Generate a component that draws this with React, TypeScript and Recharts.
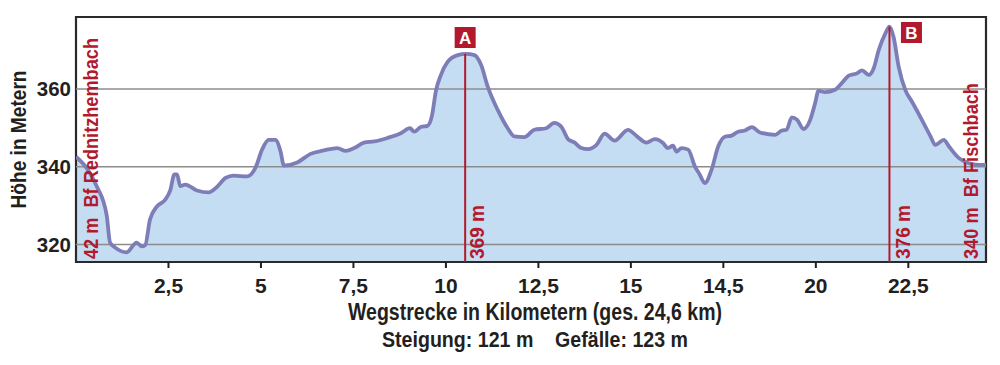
import React from 'react';
import { ComposedChart, Area, Line, XAxis, YAxis, ReferenceLine, ReferenceArea, Label } from 'recharts';

const kmValues = [
  0, 0.3, 0.56, 0.83, 0.92, 1.06, 1.37, 1.64, 1.78, 1.87, 2.0, 2.19, 2.41, 2.55, 2.66, 2.73, 2.82, 2.95,
  3.27, 3.59, 3.81, 4.04, 4.26, 4.63, 4.85, 5.03, 5.21, 5.39, 5.53, 5.62, 5.98, 6.34, 6.7, 7.06, 7.29,
  7.52, 7.79, 8.06, 8.42, 8.78, 9.03, 9.14, 9.32, 9.5, 9.62, 9.73, 9.86, 10.05, 10.32, 10.54, 10.77,
  10.95, 11.13, 11.4, 11.67, 11.85, 12.12, 12.39, 12.71, 12.93, 13.12, 13.3, 13.48, 13.66, 13.84, 14.07,
  14.29, 14.56, 14.92, 15.19, 15.42, 15.65, 15.87, 16.0, 16.14, 16.23, 16.37, 16.55, 16.73, 16.86, 17.0,
  17.18, 17.36, 17.54, 17.72, 17.9, 18.08, 18.27, 18.49, 18.9, 19.08, 19.21, 19.35, 19.49, 19.67, 19.85,
  19.98, 20.07, 20.25, 20.52, 20.7, 20.89, 21.11, 21.25, 21.43, 21.56, 21.7, 21.88, 21.99, 22.1, 22.24,
  22.42, 22.6, 22.87, 23.1, 23.23, 23.46, 23.6, 23.87, 24.14, 24.41, 24.6,
];

const elevValues = [
  342.6, 339.5, 335, 327.5, 320.5, 319.2, 318, 320.5, 319.5, 319.8, 326.4, 329.8, 331.5, 334, 338, 338, 335, 335.4,
  333.9, 333.4, 334.8, 337.1, 337.7, 337.5, 339.7, 344.4, 346.9, 346.9, 343.9, 340.3, 341.1, 343.3, 344.2, 344.8, 344.1,
  344.8, 346.2, 346.5, 347.4, 348.6, 349.9, 349.0, 350.2, 350.5, 353, 359.5, 363.5, 367, 368.7, 369, 368.7,
  366.2, 360.6, 354.6, 349.9, 347.8, 347.6, 349.5, 349.9, 351.3, 350.3, 347.1, 346.2, 344.8, 344.5, 345.6,
  348.5, 346.7, 349.5, 347.6, 346.2, 347.1, 346.1, 344.8, 345.4, 343.9, 344.8, 344.4, 340.1, 338, 335.8,
  339.2, 345.2, 347.7, 348, 349, 349.3, 350.2, 348.8, 348.2, 349.3, 349.5, 352.7, 352.1, 349.7, 352.1,
  356.3, 359.5, 359.2, 359.8, 361.5, 363.4, 364, 364.8, 363.6, 365.2, 370, 374.3, 376, 373.4, 365.7,
  359.7, 356.7, 352, 347.8, 345.6, 346.9, 345.2, 342.2, 340.9, 340.5, 340.5,
];

const xTicks = [2.5, 5, 7.5, 10, 12.5, 15, 17.5, 20, 22.5];
const xTickLabels = ['2,5', '5', '7,5', '10', '12,5', '15', '14,5', '20', '22,5'];
const yTicks = [320, 340, 360];

const peaks = [
  { km: 10.52, h: 369, letter: 'A', text: '369 m', boxDx: 0, boxTop: 27, textDx: 11 },
  { km: 21.99, h: 376, letter: 'B', text: '376 m', boxDx: 22, boxTop: 22, textDx: 13 },
];

const stations = [
  { km: 0, text: '42 m  Bf Rednitzhembach', dx: 14, len: 221 },
  { km: 24.6, text: '340 m  Bf Fischbach', dx: -16, len: 176 },
];

const axisTitle = 'Wegstrecke in Kilometern (ges. 24,6 km)';
const statsText = 'Steigung: 121 m    Gefälle: 123 m';
const yTitle = 'Höhe in Metern';

const data = kmValues.map((km, i) => ({ km, h: elevValues[i] }));

const FONT = '"Liberation Sans", Arial, Helvetica, sans-serif';
const RED = '#b3192c';
const TEXT = '#231f20';
const Y_MIN = 315.5;
const Y_MAX = 378.5;

const PeakLabel = (props: any) => {
  const vb = props.viewBox || {};
  const x = vb.x ?? 0;
  const bottom = (vb.y ?? 0) + (vb.height ?? 0);
  const bx = x + props.boxDx;
  return (
    <g>
      <rect x={bx - 10.5} y={props.boxTop} width={21} height={21} fill={RED} />
      <text x={bx} y={props.boxTop + 17} textAnchor="middle" fill="#fff" fontSize={17} fontWeight={700} fontFamily={FONT}>
        {props.letter}
      </text>
      <text
        transform={`translate(${x + props.textDx}, ${bottom - 3}) rotate(-90)`}
        textAnchor="start"
        dominantBaseline="central"
        fill={RED}
        fontSize={20.5}
        fontWeight={700}
        fontFamily={FONT}
        textLength={54}
        lengthAdjust="spacingAndGlyphs"
      >
        {props.text}
      </text>
    </g>
  );
};

const StationLabel = (props: any) => {
  const vb = props.viewBox || {};
  const x = (vb.x ?? 0) + props.dx;
  const bottom = (vb.y ?? 0) + (vb.height ?? 0);
  return (
    <text
      transform={`translate(${x}, ${bottom - 3}) rotate(-90)`}
      textAnchor="start"
      dominantBaseline="central"
      fill={RED}
      fontSize={21}
      fontWeight={700}
      fontFamily={FONT}
      textLength={props.len}
      lengthAdjust="spacingAndGlyphs"
      style={{ whiteSpace: 'pre' }}
    >
      {props.text}
    </text>
  );
};

const BottomTitle = (props: any) => {
  const vb = props.viewBox || {};
  const cx = (vb.x ?? 0) + (vb.width ?? 0) / 2 + 4;
  const y0 = vb.y ?? 0;
  return (
    <g>
      <text
        x={cx}
        y={y0 + 58}
        textAnchor="middle"
        fill={TEXT}
        fontSize={23}
        fontWeight={700}
        fontFamily={FONT}
        textLength={374}
        lengthAdjust="spacingAndGlyphs"
      >
        {axisTitle}
      </text>
      <text
        x={cx}
        y={y0 + 85}
        textAnchor="middle"
        fill={TEXT}
        fontSize={22}
        fontWeight={700}
        fontFamily={FONT}
        textLength={306}
        lengthAdjust="spacingAndGlyphs"
        style={{ whiteSpace: 'pre' }}
      >
        {statsText}
      </text>
    </g>
  );
};

const YTitle = (props: any) => {
  const vb = props.viewBox || {};
  const x = (vb.x ?? 0) + 18.5;
  const y = (vb.y ?? 0) + (vb.height ?? 0) / 2;
  return (
    <text
      transform={`translate(${x}, ${y}) rotate(-90)`}
      textAnchor="middle"
      dominantBaseline="central"
      fill={TEXT}
      fontSize={22.5}
      fontWeight={700}
      fontFamily={FONT}
      textLength={138}
      lengthAdjust="spacingAndGlyphs"
    >
      {yTitle}
    </text>
  );
};

export default function App() {
  return (
    <div style={{ position: 'absolute', left: 0, top: 0, width: 1000, height: 365, background: '#fff' }}>
      <ComposedChart width={1000} height={365} data={data} margin={{ top: 17, right: 14, bottom: 0, left: 0 }}>
        <XAxis
          dataKey="km"
          type="number"
          domain={[0, 24.6]}
          ticks={xTicks}
          interval={0}
          allowDataOverflow
          height={103}
          tickSize={6}
          tickMargin={10}
          axisLine={false}
          tickLine={{ stroke: TEXT, strokeWidth: 2 }}
          tickFormatter={(v: number) => xTickLabels[xTicks.indexOf(v)] ?? String(v)}
          tick={{ fill: TEXT, fontSize: 21, fontWeight: 700, fontFamily: FONT }}
        >
          <Label content={<BottomTitle />} />
        </XAxis>
        <YAxis
          type="number"
          domain={[Y_MIN, Y_MAX]}
          ticks={yTicks}
          allowDataOverflow
          width={76}
          axisLine={false}
          tickLine={false}
          tickSize={0}
          tickMargin={5}
          tick={{ fill: TEXT, fontSize: 20.5, fontWeight: 700, fontFamily: FONT }}
        >
          <Label content={<YTitle />} />
        </YAxis>
        <Area
          dataKey="h"
          type="monotone"
          fill="#c5ddf2"
          fillOpacity={1}
          stroke="none"
          isAnimationActive={false}
          baseValue={Y_MIN}
        />
        {yTicks.map((t) => (
          <ReferenceLine key={t} y={t} stroke="#8c8c8c" strokeWidth={1.5} />
        ))}
        <Line
          dataKey="h"
          type="monotone"
          stroke="#7d7db8"
          strokeWidth={3.8}
          dot={false}
          activeDot={false}
          isAnimationActive={false}
        />
        {peaks.map((p) => (
          <ReferenceLine
            key={p.letter}
            segment={[{ x: p.km, y: p.h }, { x: p.km, y: Y_MIN }]}
            stroke={RED}
            strokeWidth={2}
            label={<PeakLabel letter={p.letter} text={p.text} boxDx={p.boxDx} boxTop={p.boxTop} textDx={p.textDx} />}
          />
        ))}
        {stations.map((s) => (
          <ReferenceLine key={s.text} x={s.km} stroke="none" label={<StationLabel text={s.text} dx={s.dx} len={s.len} />} />
        ))}
        <ReferenceArea x1={0} x2={24.6} y1={Y_MIN} y2={Y_MAX} fill="none" stroke="#2a2a2a" strokeWidth={2.2} />
      </ComposedChart>
    </div>
  );
}
